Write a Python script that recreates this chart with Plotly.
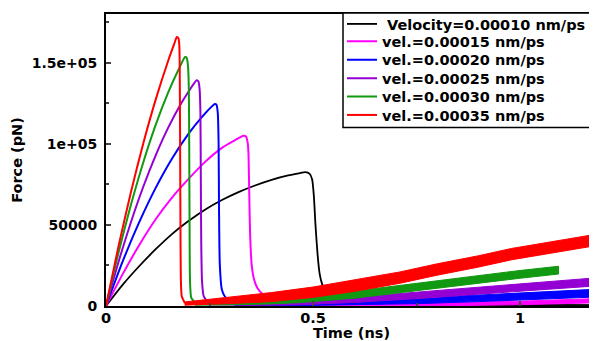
import plotly.graph_objects as go

# ---------------- data ----------------
labels = ["\u00a0Velocity=0.00010 nm/ps", "vel.=0.00015 nm/ps", "vel.=0.00020 nm/ps",
          "vel.=0.00025 nm/ps", "vel.=0.00030 nm/ps", "vel.=0.00035 nm/ps"]
colors = ["#000000", "#ff00ff", "#0000ff", "#9400d3", "#119911", "#ff0000"]

# smooth pulling curves (time in ns, force in pN)
t_v10 = [0, 0.04, 0.08, 0.12, 0.16, 0.2, 0.24, 0.28, 0.32, 0.36, 0.4, 0.44, 0.47, 0.481,
         0.492, 0.498, 0.502, 0.506, 0.511, 0.516, 0.522, 0.53, 0.54, 0.56]
f_v10 = [0, 13000, 24500, 35000, 44500, 52500, 59500, 65300, 70200, 74300, 77800, 80500, 82000, 82500,
         81500, 78000, 68000, 50000, 32000, 20000, 13500, 9000, 6000, 3500]

t_v15 = [0, 0.04, 0.08, 0.12, 0.16, 0.2, 0.24, 0.28, 0.31, 0.332, 0.338, 0.342, 0.344, 0.346, 0.348,
         0.352, 0.358, 0.366, 0.38, 0.4]
f_v15 = [0, 19500, 37500, 53500, 67000, 78500, 89000, 97500, 102000, 105000, 104500, 101000, 95000,
         70000, 45000, 25000, 16000, 11000, 7000, 4500]

t_v20 = [0, 0.04, 0.08, 0.12, 0.16, 0.2, 0.23, 0.263, 0.267, 0.27, 0.272, 0.273, 0.275,
         0.28, 0.29, 0.31]
f_v20 = [0, 27300, 51500, 72800, 91100, 106400, 116000, 124500, 124000, 119000, 100000, 60000, 25000,
         10000, 5000, 3000]

t_v25 = [0, 0.03, 0.06, 0.09, 0.12, 0.15, 0.18, 0.2, 0.219, 0.223, 0.226, 0.228, 0.229, 0.23,
         0.232, 0.236, 0.245]
f_v25 = [0, 27000, 51500, 73500, 92900, 109800, 124200, 132400, 139200, 138500, 134000, 120000, 80000,
         40000, 15000, 6000, 2500]

t_v30 = [0, 0.03, 0.06, 0.09, 0.12, 0.15, 0.175, 0.191, 0.195, 0.198, 0.2, 0.201,
         0.202, 0.203, 0.206, 0.215]
f_v30 = [0, 32700, 62200, 88500, 111600, 131500, 145600, 153500, 153000, 148000, 135000, 100000,
         40000, 15000, 5000, 2000]

t_v35 = [0, 0.03, 0.06, 0.09, 0.12, 0.15, 0.165, 0.171, 0.175, 0.177, 0.178,
         0.179, 0.18, 0.181, 0.183, 0.19]
f_v35 = [0, 36600, 70000, 100200, 127200, 151000, 161700, 165800, 165000, 161000, 150000,
         100000, 40000, 15000, 6000, 2000]

# noisy tails after rupture: centre of the noise band and its half-width
tail_t_v10 = [0.56, 0.8, 1.0, 1.19]
tail_mid_v10 = [1500, 800, 600, 500]
tail_hw_v10 = [300, 300, 300, 300]

tail_t_v15 = [0.4, 0.6, 0.8, 1.0, 1.19]
tail_mid_v15 = [500, 600, 1000, 1900, 3300]
tail_hw_v15 = [400, 600, 900, 1100, 1300]

tail_t_v20 = [0.31, 0.45, 0.6, 0.76, 0.9, 1.05, 1.19]
tail_mid_v20 = [900, 1000, 1800, 3200, 4700, 6300, 8000]
tail_hw_v20 = [500, 800, 1200, 1700, 2000, 2200, 2400]

tail_t_v25 = [0.245, 0.35, 0.47, 0.6, 0.76, 0.9, 1.0, 1.19]
tail_mid_v25 = [1200, 1000, 1800, 3800, 6700, 9500, 11200, 15000]
tail_hw_v25 = [500, 600, 1000, 1600, 2000, 2200, 2400, 2500]

tail_t_v30 = [0.215, 0.3, 0.4, 0.47, 0.6, 0.76, 0.9, 1.0, 1.093]
tail_mid_v30 = [1200, 1500, 2500, 3700, 7000, 11900, 16500, 19500, 22100]
tail_hw_v30 = [700, 800, 1200, 1600, 2200, 2400, 2400, 2400, 2400]

tail_t_v35 = [0.19, 0.25, 0.3, 0.4, 0.5, 0.6, 0.71, 0.8, 0.9, 0.98, 1.08, 1.19]
tail_mid_v35 = [1500, 2500, 3500, 5500, 8500, 12500, 17500, 22500, 27500, 32000, 36500, 41000]
tail_hw_v35 = [1000, 1600, 2000, 2800, 3200, 3500, 3500, 3500, 3500, 3500, 3500, 3500]

y_tickvals = [0, 50000, 100000, 150000]
y_ticktext = ["0", "50000", "1e+05", "1.5e+05"]
y_minor = [25000, 75000, 125000, 175000]
x_tickvals = [0, 0.5, 1]
x_ticktext = ["0", "0.5", "1"]
x_minor = [0.25, 0.75]

curves = [(t_v10, f_v10), (t_v15, f_v15), (t_v20, f_v20),
          (t_v25, f_v25), (t_v30, f_v30), (t_v35, f_v35)]
tails = [(tail_t_v10, tail_mid_v10, tail_hw_v10), (tail_t_v15, tail_mid_v15, tail_hw_v15),
         (tail_t_v20, tail_mid_v20, tail_hw_v20), (tail_t_v25, tail_mid_v25, tail_hw_v25),
         (tail_t_v30, tail_mid_v30, tail_hw_v30), (tail_t_v35, tail_mid_v35, tail_hw_v35)]

# ---------------- layout geometry (page body has an 8px margin) ----------------
W, H = 589, 333
ML, MR, MT, MB = 98, 0, 5, 35
PW, PH = W - ML - MR, H - MT - MB
OFF = 8


def px_to_paper_y(page_y):
    return 1 - (page_y - OFF - MT) / PH


def px_to_paper_x(page_x):
    return (page_x - OFF - ML) / PW


legend_ids = ["legend", "legend2", "legend3", "legend4", "legend5", "legend6"]
row_page_y = [23 + 18.4 * i for i in range(6)]

fig = go.Figure()
for i in range(6):
    ct, cf = curves[i]
    tt, tm, th = tails[i]
    col = colors[i]
    hi = [m + h for m, h in zip(tm, th)]
    lo = [m - h for m, h in zip(tm, th)]
    fig.add_trace(go.Scatter(x=tt + tt[::-1], y=hi + lo[::-1], fill="toself", fillcolor=col,
                             mode="lines", line=dict(color=col, width=1), showlegend=False,
                             hoverinfo="skip"))
    fig.add_trace(go.Scatter(x=ct + [tt[0]], y=cf + [tm[0]], mode="lines", name=labels[i],
                             legend=legend_ids[i],
                             line=dict(color=col, width=2 if i else 1.8,
                                       shape="spline", smoothing=0.6)))

legend_font = dict(family="DejaVu Sans", size=14.5, weight="bold", color="black")
layout_legends = {}
for i, lid in enumerate(legend_ids):
    layout_legends[lid] = dict(x=px_to_paper_x(342), xanchor="left",
                               y=px_to_paper_y(row_page_y[i]), yanchor="middle",
                               bgcolor="rgba(0,0,0,0)", borderwidth=0,
                               font=legend_font, itemwidth=30)

fig.update_layout(
    width=W, height=H,
    margin=dict(l=ML, r=MR, t=MT, b=MB),
    plot_bgcolor="white", paper_bgcolor="white",
    font=dict(family="DejaVu Sans", color="black", size=14, weight="bold"),
    shapes=[dict(type="rect", xref="paper", yref="paper", layer="above",
                 x0=px_to_paper_x(343), x1=1.2, y0=px_to_paper_y(127), y1=px_to_paper_y(12),
                 fillcolor="white", line=dict(color="black", width=1.5))],
    xaxis=dict(range=[0, 1.186], showline=True, linecolor="black", linewidth=2, mirror=True,
               showgrid=False, zeroline=False, tickmode="array", tickvals=x_tickvals,
               ticktext=x_ticktext, ticks="inside", ticklen=5, tickwidth=1.5,
               minor=dict(tickvals=x_minor, ticks="inside", ticklen=3),
               tickfont=dict(size=14.5, weight="bold"), ticklabelstandoff=-2,
               title=dict(text="Time (ns)", font=dict(size=14.5, weight="bold"), standoff=0)),
    yaxis=dict(range=[0, 180000], showline=True, linecolor="black", linewidth=2, mirror=False,
               showgrid=False, zeroline=False, tickmode="array", tickvals=y_tickvals,
               ticktext=y_ticktext, ticks="inside", ticklen=5, tickwidth=1.5,
               minor=dict(tickvals=y_minor, ticks="inside", ticklen=3),
               tickfont=dict(size=14, weight="bold"), ticklabelstandoff=4,
               title=dict(text="Force (pN)", font=dict(size=14.5, weight="bold"), standoff=6)),
    **layout_legends,
)

fig.write_html("out.html")
